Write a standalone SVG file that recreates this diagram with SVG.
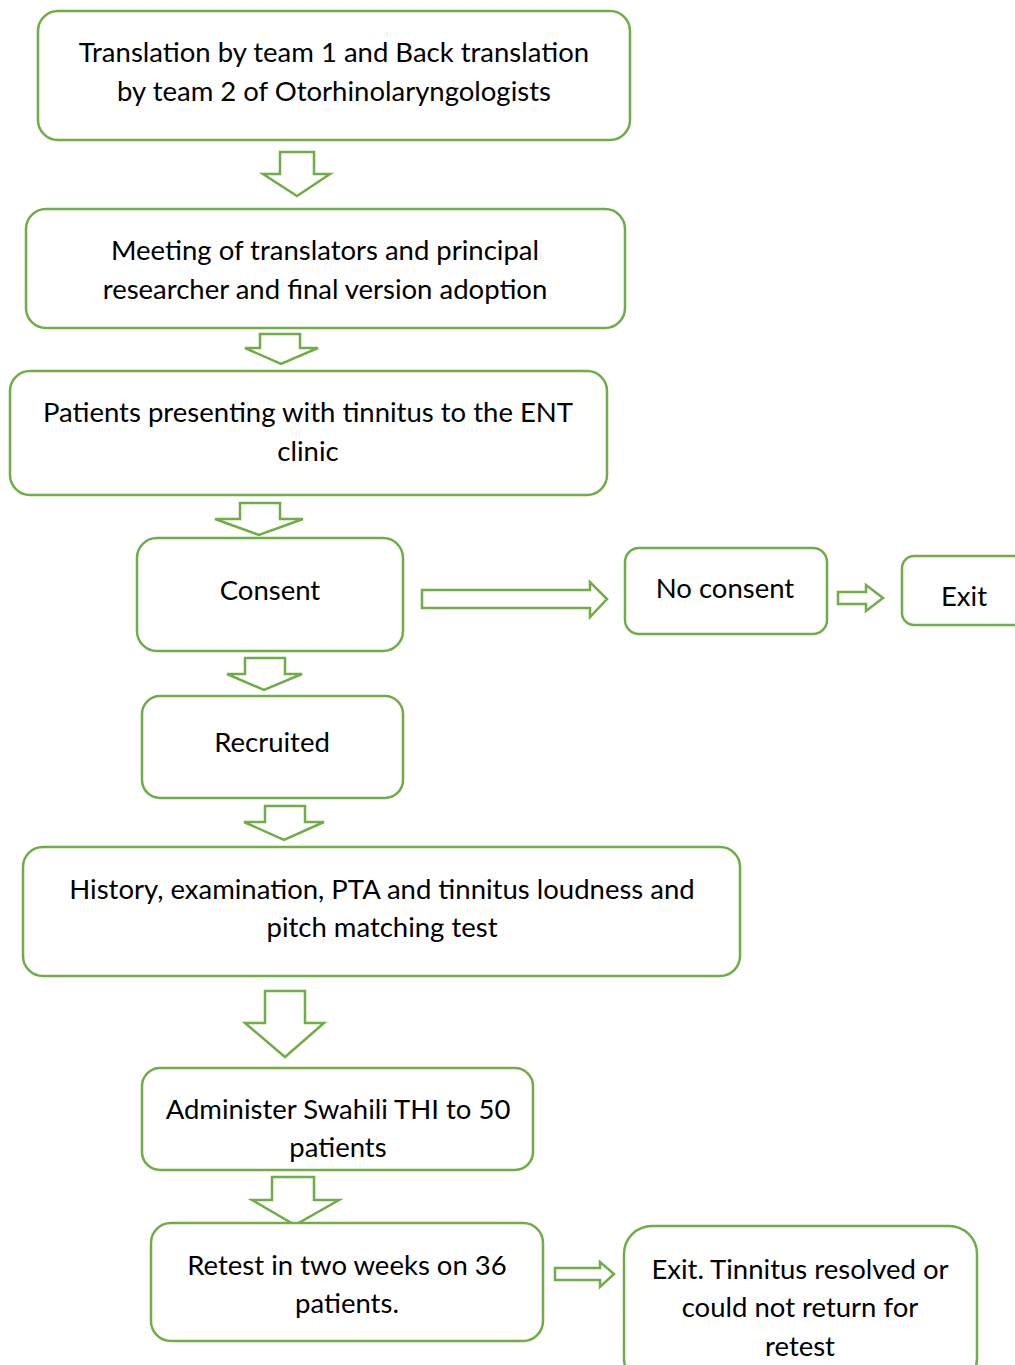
<svg xmlns="http://www.w3.org/2000/svg" width="1015" height="1365" viewBox="0 0 1015 1365">
<style>
.box{fill:#fff;stroke:#70AD47;stroke-width:2.5}
.arr{fill:#fff;stroke:#70AD47;stroke-width:2.5;stroke-linejoin:miter}
text{font-family:Lato,"Liberation Sans",sans-serif;font-size:27.5px;fill:#000;text-anchor:middle}
</style>
<rect width="1015" height="1365" fill="#fff"/>
<g id="connectors">
<polygon class="arr" points="280,152 314,152 314,174 330,174 297,196 263,174 280,174"/>
<polygon class="arr" points="260,334 300,334 300,348 318,348 281,364 245,348 260,348"/>
<polygon class="arr" points="240,503 280,503 280,519 303,519 259,535 215,519 240,519"/>
<polygon class="arr" points="422,590 590,590 590,582 607,599 590,617 590,608 422,608"/>
<polygon class="arr" points="838,592 866,592 866,585 883,598 866,611 866,604 838,604"/>
<polygon class="arr" points="245,658 285,658 285,674 302,674 264,690 227,674 245,674"/>
<polygon class="arr" points="265,806 305,806 305,822 324,822 284,840 244,822 265,822"/>
<polygon class="arr" points="265,991 305,991 305,1023 324,1023 285,1057 245,1023 265,1023"/>
<polygon class="arr" points="272,1177 314,1177 314,1200 339,1200 295,1225 252,1200 272,1200"/>
<polygon class="arr" points="555,1268 600,1268 600,1262 614,1274 600,1287 600,1280 555,1280"/>
</g>
<g id="n1"><rect class="box" x="38" y="11" width="592" height="129" rx="20"/><text x="334" y="62">Translation by team 1 and Back translation</text><text x="334" y="101">by team 2 of Otorhinolaryngologists</text></g>
<g id="n2"><rect class="box" x="26" y="209" width="599" height="119" rx="20"/><text x="325" y="260">Meeting of translators and principal</text><text x="325" y="299">researcher and final version adoption</text></g>
<g id="n3"><rect class="box" x="10" y="371" width="597" height="124" rx="20"/><text x="308" y="422">Patients presenting with tinnitus to the ENT</text><text x="308" y="461">clinic</text></g>
<g id="n4"><rect class="box" x="137" y="538" width="266" height="113" rx="20"/><text x="270" y="600">Consent</text></g>
<g id="n5"><rect class="box" x="625" y="548" width="202" height="86" rx="14"/><text x="725" y="598">No consent</text></g>
<g id="n6"><rect class="box" x="902" y="556" width="130" height="69" rx="12"/><text x="964" y="606">Exit</text></g>
<g id="n7"><rect class="box" x="142" y="696" width="261" height="102" rx="18"/><text x="272" y="752">Recruited</text></g>
<g id="n8"><rect class="box" x="23" y="847" width="717" height="129" rx="20"/><text x="382" y="899">History, examination, PTA and tinnitus loudness and</text><text x="382" y="937">pitch matching test</text></g>
<g id="n9"><rect class="box" x="142" y="1068" width="391" height="102" rx="18"/><text x="338" y="1119">Administer Swahili THI to 50</text><text x="338" y="1157">patients</text></g>
<g id="n10"><rect class="box" x="151" y="1223" width="392" height="118" rx="20"/><text x="347" y="1275">Retest in two weeks on 36</text><text x="347" y="1313">patients.</text></g>
<g id="n11"><rect class="box" x="624" y="1226" width="353" height="160" rx="28"/><text x="800" y="1279">Exit. Tinnitus resolved or</text><text x="800" y="1317">could not return for</text><text x="800" y="1356">retest</text></g>
</svg>
